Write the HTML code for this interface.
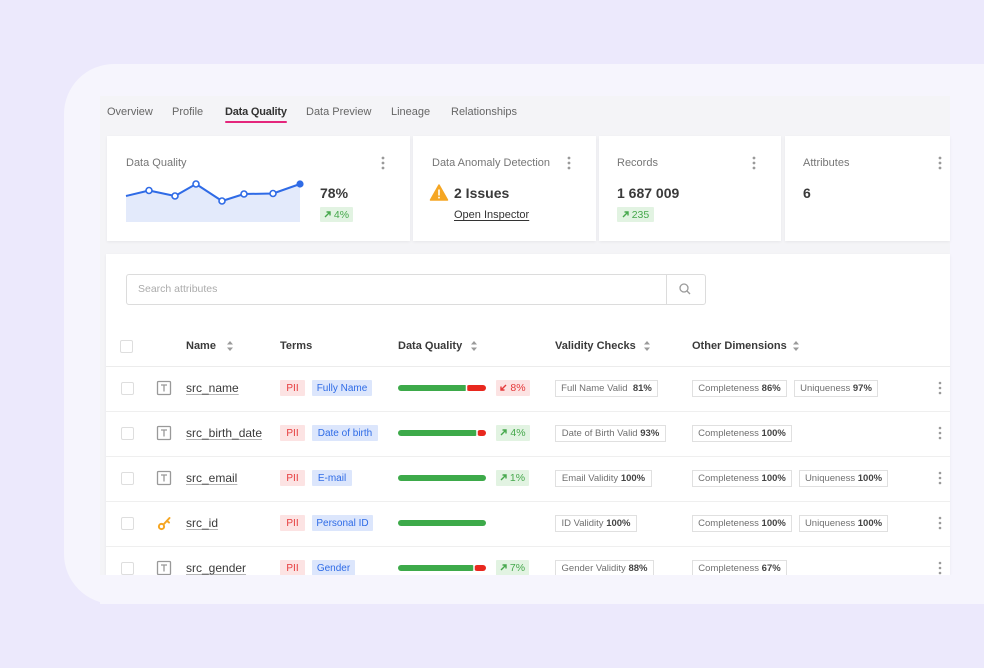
<!DOCTYPE html>
<html><head><meta charset="utf-8">
<style>
*{margin:0;padding:0;box-sizing:border-box}
html,body{width:984px;height:668px;overflow:hidden}
body{background:#ECE9FC;font-family:"Liberation Sans",Arial,sans-serif;position:relative;color:#333}
.a{position:absolute;white-space:nowrap}
.t{position:absolute;white-space:nowrap;height:16px;line-height:16px}
.card{position:absolute;background:#fff;box-shadow:0 1px 3px rgba(0,0,0,0.06)}
.tab{font-size:11px;color:#666}
.ctitle{font-size:11px;color:#767676}
.val{font-size:14px;font-weight:bold;color:#3a3a3a}
.hd{font-size:11px;font-weight:bold;color:#3a3a3a}
.nm{font-size:12px;color:#3a3a3a;text-decoration:underline;text-decoration-color:#b5b5b5;text-underline-offset:2px}
.bd{position:absolute;height:16px;line-height:15px;padding-top:1px;font-size:10px;text-align:center;white-space:nowrap;border-radius:1px}
.pii{background:#FCE3E3;color:#E5393A;width:25px;left:280px}
.term{background:#DCE6FC;color:#2E6BE6;left:312px}
.up{background:#E2F3E2;color:#46A84C}
.dn{background:#FCE3E3;color:#E5393A}
.ob{position:absolute;height:17px;line-height:15px;font-size:9.5px;text-align:center;white-space:nowrap;border:1px solid #e0e0e0;color:#707070;background:#fff}
.ob b{color:#444}
</style></head><body>
<!-- panel -->
<div class="a" style="left:64px;top:64px;width:1000px;height:540px;border-radius:50px;background:#F6F5FD"></div>
<div class="a" style="left:100px;top:96px;width:850px;height:479px;background:#F4F4F7"></div>

<!-- tabs -->
<div class="t tab" style="left:107px;top:104px">Overview</div>
<div class="t tab" style="left:172px;top:104px">Profile</div>
<div class="t tab" style="left:225px;top:104px;color:#333;font-weight:bold;letter-spacing:-0.2px">Data Quality</div>
<div class="a" style="left:225px;top:121px;width:62px;height:2px;border-radius:1px;background:#E4267C"></div>
<div class="t tab" style="left:306px;top:104px">Data Preview</div>
<div class="t tab" style="left:391px;top:104px">Lineage</div>
<div class="t tab" style="left:451px;top:104px">Relationships</div>

<!-- cards -->
<div class="card" style="left:107px;top:136px;width:303px;height:105px"></div>
<div class="card" style="left:413px;top:136px;width:183px;height:105px"></div>
<div class="card" style="left:599px;top:136px;width:182px;height:105px"></div>
<div class="card" style="left:785px;top:136px;width:165px;height:105px"></div>

<!-- table card -->
<div class="card" style="left:106px;top:254px;width:844px;height:321px"></div>
<div class="a" style="left:126px;top:274px;width:580px;height:31px;border:1px solid #dcdcdc;border-radius:3px;background:#fff"></div>
<div class="a" style="left:666px;top:275px;width:1px;height:29px;background:#dcdcdc"></div>
<div class="a" style="left:106px;top:366px;width:844px;height:1px;background:#ececec"></div>
<div class="a" style="left:106px;top:411px;width:844px;height:1px;background:#efefef"></div>
<div class="a" style="left:106px;top:456px;width:844px;height:1px;background:#efefef"></div>
<div class="a" style="left:106px;top:501px;width:844px;height:1px;background:#efefef"></div>
<div class="a" style="left:106px;top:546px;width:844px;height:1px;background:#efefef"></div>

<svg class="a" style="left:0;top:0" width="984" height="668" viewBox="0 0 984 668">
  <!-- chart -->
  <path d="M126,196 L149,190.5 L175,196 L196,184 L222,201 L244,194 L273,193.5 L300,184 L300,222 L126,222 Z" fill="#E3EAFB"/>
  <polyline points="126,196 149,190.5 175,196 196,184 222,201 244,194 273,193.5 300,184" fill="none" stroke="#2F6BE6" stroke-width="2" stroke-linejoin="round"/>
  <g fill="#fff" stroke="#2F6BE6" stroke-width="1.6">
    <circle cx="149" cy="190.5" r="3"/><circle cx="175" cy="196" r="3"/><circle cx="196" cy="184" r="3"/>
    <circle cx="222" cy="201" r="3"/><circle cx="244" cy="194" r="3"/><circle cx="273" cy="193.5" r="3"/>
  </g>
  <circle cx="300" cy="184" r="3.6" fill="#2F6BE6"/>
  <!-- kebabs -->
  <g fill="#9a9a9a">
    <circle cx="383" cy="158" r="1.4"/><circle cx="383" cy="163" r="1.4"/><circle cx="383" cy="168" r="1.4"/>
    <circle cx="569" cy="158" r="1.4"/><circle cx="569" cy="163" r="1.4"/><circle cx="569" cy="168" r="1.4"/>
    <circle cx="754" cy="158" r="1.4"/><circle cx="754" cy="163" r="1.4"/><circle cx="754" cy="168" r="1.4"/>
    <circle cx="940" cy="158" r="1.4"/><circle cx="940" cy="163" r="1.4"/><circle cx="940" cy="168" r="1.4"/>
    <circle cx="940" cy="383" r="1.3"/><circle cx="940" cy="388" r="1.3"/><circle cx="940" cy="393" r="1.3"/>
    <circle cx="940" cy="428" r="1.3"/><circle cx="940" cy="433" r="1.3"/><circle cx="940" cy="438" r="1.3"/>
    <circle cx="940" cy="473" r="1.3"/><circle cx="940" cy="478" r="1.3"/><circle cx="940" cy="483" r="1.3"/>
    <circle cx="940" cy="518" r="1.3"/><circle cx="940" cy="523" r="1.3"/><circle cx="940" cy="528" r="1.3"/>
    <circle cx="940" cy="563" r="1.3"/><circle cx="940" cy="568" r="1.3"/><circle cx="940" cy="573" r="1.3"/>
  </g>
  <!-- warning -->
  <path d="M439,185 L447.5,200 L430.5,200 Z" fill="#F5A623" stroke="#F5A623" stroke-width="1.5" stroke-linejoin="round"/>
  <rect x="438.2" y="189.5" width="1.6" height="6" fill="#fff"/>
  <rect x="438.2" y="196.8" width="1.6" height="1.6" fill="#fff"/>
  <!-- search icon -->
  <circle cx="684" cy="288" r="4" fill="none" stroke="#9a9a9a" stroke-width="1.3"/>
  <line x1="687" y1="291" x2="690" y2="294" stroke="#9a9a9a" stroke-width="1.3"/>
  <!-- checkboxes -->
  <g fill="#fff" stroke="#dedede" stroke-width="1">
    <rect x="120.5" y="340.5" width="12" height="12" rx="1.5"/>
    <rect x="121.5" y="382.5" width="12" height="12" rx="1.5"/>
    <rect x="121.5" y="427.5" width="12" height="12" rx="1.5"/>
    <rect x="121.5" y="472.5" width="12" height="12" rx="1.5"/>
    <rect x="121.5" y="517.5" width="12" height="12" rx="1.5"/>
    <rect x="121.5" y="562.5" width="12" height="12" rx="1.5"/>
  </g>
  <!-- sort icons -->
  <g fill="#9a9a9a">
    <path d="M227,344.5 L230,341 L233,344.5 Z"/><path d="M227,347.5 L230,351 L233,347.5 Z"/>
    <path d="M471,344.5 L474,341 L477,344.5 Z"/><path d="M471,347.5 L474,351 L477,347.5 Z"/>
    <path d="M644,344.5 L647,341 L650,344.5 Z"/><path d="M644,347.5 L647,351 L650,347.5 Z"/>
    <path d="M793,344.5 L796,341 L799,344.5 Z"/><path d="M793,347.5 L796,351 L799,347.5 Z"/>
  </g>
  <!-- T icons -->
  <g fill="none" stroke="#999" stroke-width="1.3">
    <rect x="157.5" y="381.5" width="13" height="13" rx="1"/><path d="M161,385 H167 M164,385 V391.5"/>
    <rect x="157.5" y="426.5" width="13" height="13" rx="1"/><path d="M161,430 H167 M164,430 V436.5"/>
    <rect x="157.5" y="471.5" width="13" height="13" rx="1"/><path d="M161,475 H167 M164,475 V481.5"/>
    <rect x="157.5" y="561.5" width="13" height="13" rx="1"/><path d="M161,565 H167 M164,565 V571.5"/>
  </g>
  <!-- key icon -->
  <g stroke="#F5A623" stroke-width="2" fill="none" stroke-linecap="round">
    <circle cx="161.5" cy="526.5" r="2.6"/>
    <path d="M163.5,524.5 L169.5,518"/>
    <path d="M167,521 L169,522.5"/>
  </g>
  <!-- bars -->
  <g stroke-width="6" stroke-linecap="round">
    <line x1="401" y1="388" x2="465" y2="388" stroke="#3DAA4A"/>
    <line x1="469" y1="388" x2="483" y2="388" stroke="#E8281E"/>
    <line x1="401" y1="433" x2="475" y2="433" stroke="#3DAA4A"/>
    <line x1="480" y1="433" x2="483" y2="433" stroke="#E8281E"/>
    <line x1="401" y1="478" x2="483" y2="478" stroke="#3DAA4A"/>
    <line x1="401" y1="523" x2="483" y2="523" stroke="#3DAA4A"/>
    <line x1="401" y1="568" x2="472" y2="568" stroke="#3DAA4A"/>
    <line x1="477" y1="568" x2="483" y2="568" stroke="#E8281E"/>
  </g>
  <g stroke="#fff" stroke-width="1.5">
    <line x1="466.5" y1="384" x2="466.5" y2="392"/>
    <line x1="477" y1="429" x2="477" y2="437"/>
    <line x1="474" y1="564" x2="474" y2="572"/>
  </g>
</svg>

<!-- card texts -->
<div class="t ctitle" style="left:126px;top:155px">Data Quality</div>
<div class="t ctitle" style="left:432px;top:155px">Data Anomaly Detection</div>
<div class="t ctitle" style="left:617px;top:155px">Records</div>
<div class="t ctitle" style="left:803px;top:155px">Attributes</div>
<div class="t val" style="left:320px;top:185px">78%</div>
<div class="t val" style="left:454px;top:185px">2 Issues</div>
<div class="t val" style="left:617px;top:185px">1 687 009</div>
<div class="t val" style="left:803px;top:185px">6</div>
<div class="bd up" style="left:320px;top:207px;width:33px;height:15px;line-height:14px;font-size:10.5px"><svg width="7" height="7" viewBox="0 0 7 7" style="vertical-align:0"><path d="M1,6 L6,1 M2.5,1 H6 V4.5" stroke="#46A84C" stroke-width="1.4" fill="none"/></svg> 4%</div>
<div class="bd up" style="left:617px;top:207px;width:37px;height:15px;line-height:14px;font-size:10.5px"><svg width="7" height="7" viewBox="0 0 7 7" style="vertical-align:0"><path d="M1,6 L6,1 M2.5,1 H6 V4.5" stroke="#46A84C" stroke-width="1.4" fill="none"/></svg> 235</div>
<div class="t" style="left:454px;top:207px;font-size:11px;color:#333;text-decoration:underline;text-underline-offset:2px">Open Inspector</div>

<!-- search -->
<div class="t" style="left:138px;top:281px;font-size:10.5px;color:#ababab">Search attributes</div>

<!-- header -->
<div class="t hd" style="left:186px;top:338px">Name</div>
<div class="t hd" style="left:280px;top:338px">Terms</div>
<div class="t hd" style="left:398px;top:338px">Data Quality</div>
<div class="t hd" style="left:555px;top:338px">Validity Checks</div>
<div class="t hd" style="left:692px;top:338px">Other Dimensions</div>

<!-- rows -->
<div class="t nm" style="left:186px;top:380px">src_name</div>
<div class="t nm" style="left:186px;top:425px">src_birth_date</div>
<div class="t nm" style="left:186px;top:470px">src_email</div>
<div class="t nm" style="left:186px;top:515px">src_id</div>
<div class="t nm" style="left:186px;top:560px">src_gender</div>

<div class="bd pii" style="top:380px">PII</div>
<div class="bd pii" style="top:425px">PII</div>
<div class="bd pii" style="top:470px">PII</div>
<div class="bd pii" style="top:515px">PII</div>
<div class="bd pii" style="top:560px">PII</div>

<div class="bd term" style="top:380px;width:60px">Fully Name</div>
<div class="bd term" style="top:425px;width:66px">Date of birth</div>
<div class="bd term" style="top:470px;width:40px">E-mail</div>
<div class="bd term" style="top:515px;width:61px">Personal ID</div>
<div class="bd term" style="top:560px;width:43px">Gender</div>

<div class="bd dn" style="left:496px;top:380px;width:34px;font-size:10.5px"><svg width="7" height="7" viewBox="0 0 7 7"><path d="M6,1 L1,6 M1,2.5 V6 H4.5" stroke="#E5393A" stroke-width="1.4" fill="none"/></svg> 8%</div>
<div class="bd up" style="left:496px;top:425px;width:34px;font-size:10.5px"><svg width="7" height="7" viewBox="0 0 7 7"><path d="M1,6 L6,1 M2.5,1 H6 V4.5" stroke="#46A84C" stroke-width="1.4" fill="none"/></svg> 4%</div>
<div class="bd up" style="left:496px;top:470px;width:33px;font-size:10.5px"><svg width="7" height="7" viewBox="0 0 7 7"><path d="M1,6 L6,1 M2.5,1 H6 V4.5" stroke="#46A84C" stroke-width="1.4" fill="none"/></svg> 1%</div>
<div class="bd up" style="left:496px;top:560px;width:33px;font-size:10.5px"><svg width="7" height="7" viewBox="0 0 7 7"><path d="M1,6 L6,1 M2.5,1 H6 V4.5" stroke="#46A84C" stroke-width="1.4" fill="none"/></svg> 7%</div>

<div class="ob" style="left:555px;top:380px;width:103px">Full Name Valid&nbsp; <b>81%</b></div>
<div class="ob" style="left:555px;top:425px;width:111px">Date of Birth Valid <b>93%</b></div>
<div class="ob" style="left:555px;top:470px;width:97px">Email Validity <b>100%</b></div>
<div class="ob" style="left:555px;top:515px;width:82px">ID Validity <b>100%</b></div>
<div class="ob" style="left:555px;top:560px;width:99px">Gender Validity <b>88%</b></div>

<div class="ob" style="left:692px;top:380px;width:95px">Completeness <b>86%</b></div>
<div class="ob" style="left:794px;top:380px;width:84px">Uniqueness <b>97%</b></div>
<div class="ob" style="left:692px;top:425px;width:100px">Completeness <b>100%</b></div>
<div class="ob" style="left:692px;top:470px;width:100px">Completeness <b>100%</b></div>
<div class="ob" style="left:799px;top:470px;width:89px">Uniqueness <b>100%</b></div>
<div class="ob" style="left:692px;top:515px;width:100px">Completeness <b>100%</b></div>
<div class="ob" style="left:799px;top:515px;width:89px">Uniqueness <b>100%</b></div>
<div class="ob" style="left:692px;top:560px;width:95px">Completeness <b>67%</b></div>

<!-- clip bottom of table (row 5 cut) -->
<div class="a" style="left:100px;top:575px;width:860px;height:29px;background:#F6F5FD"></div>
</body></html>
